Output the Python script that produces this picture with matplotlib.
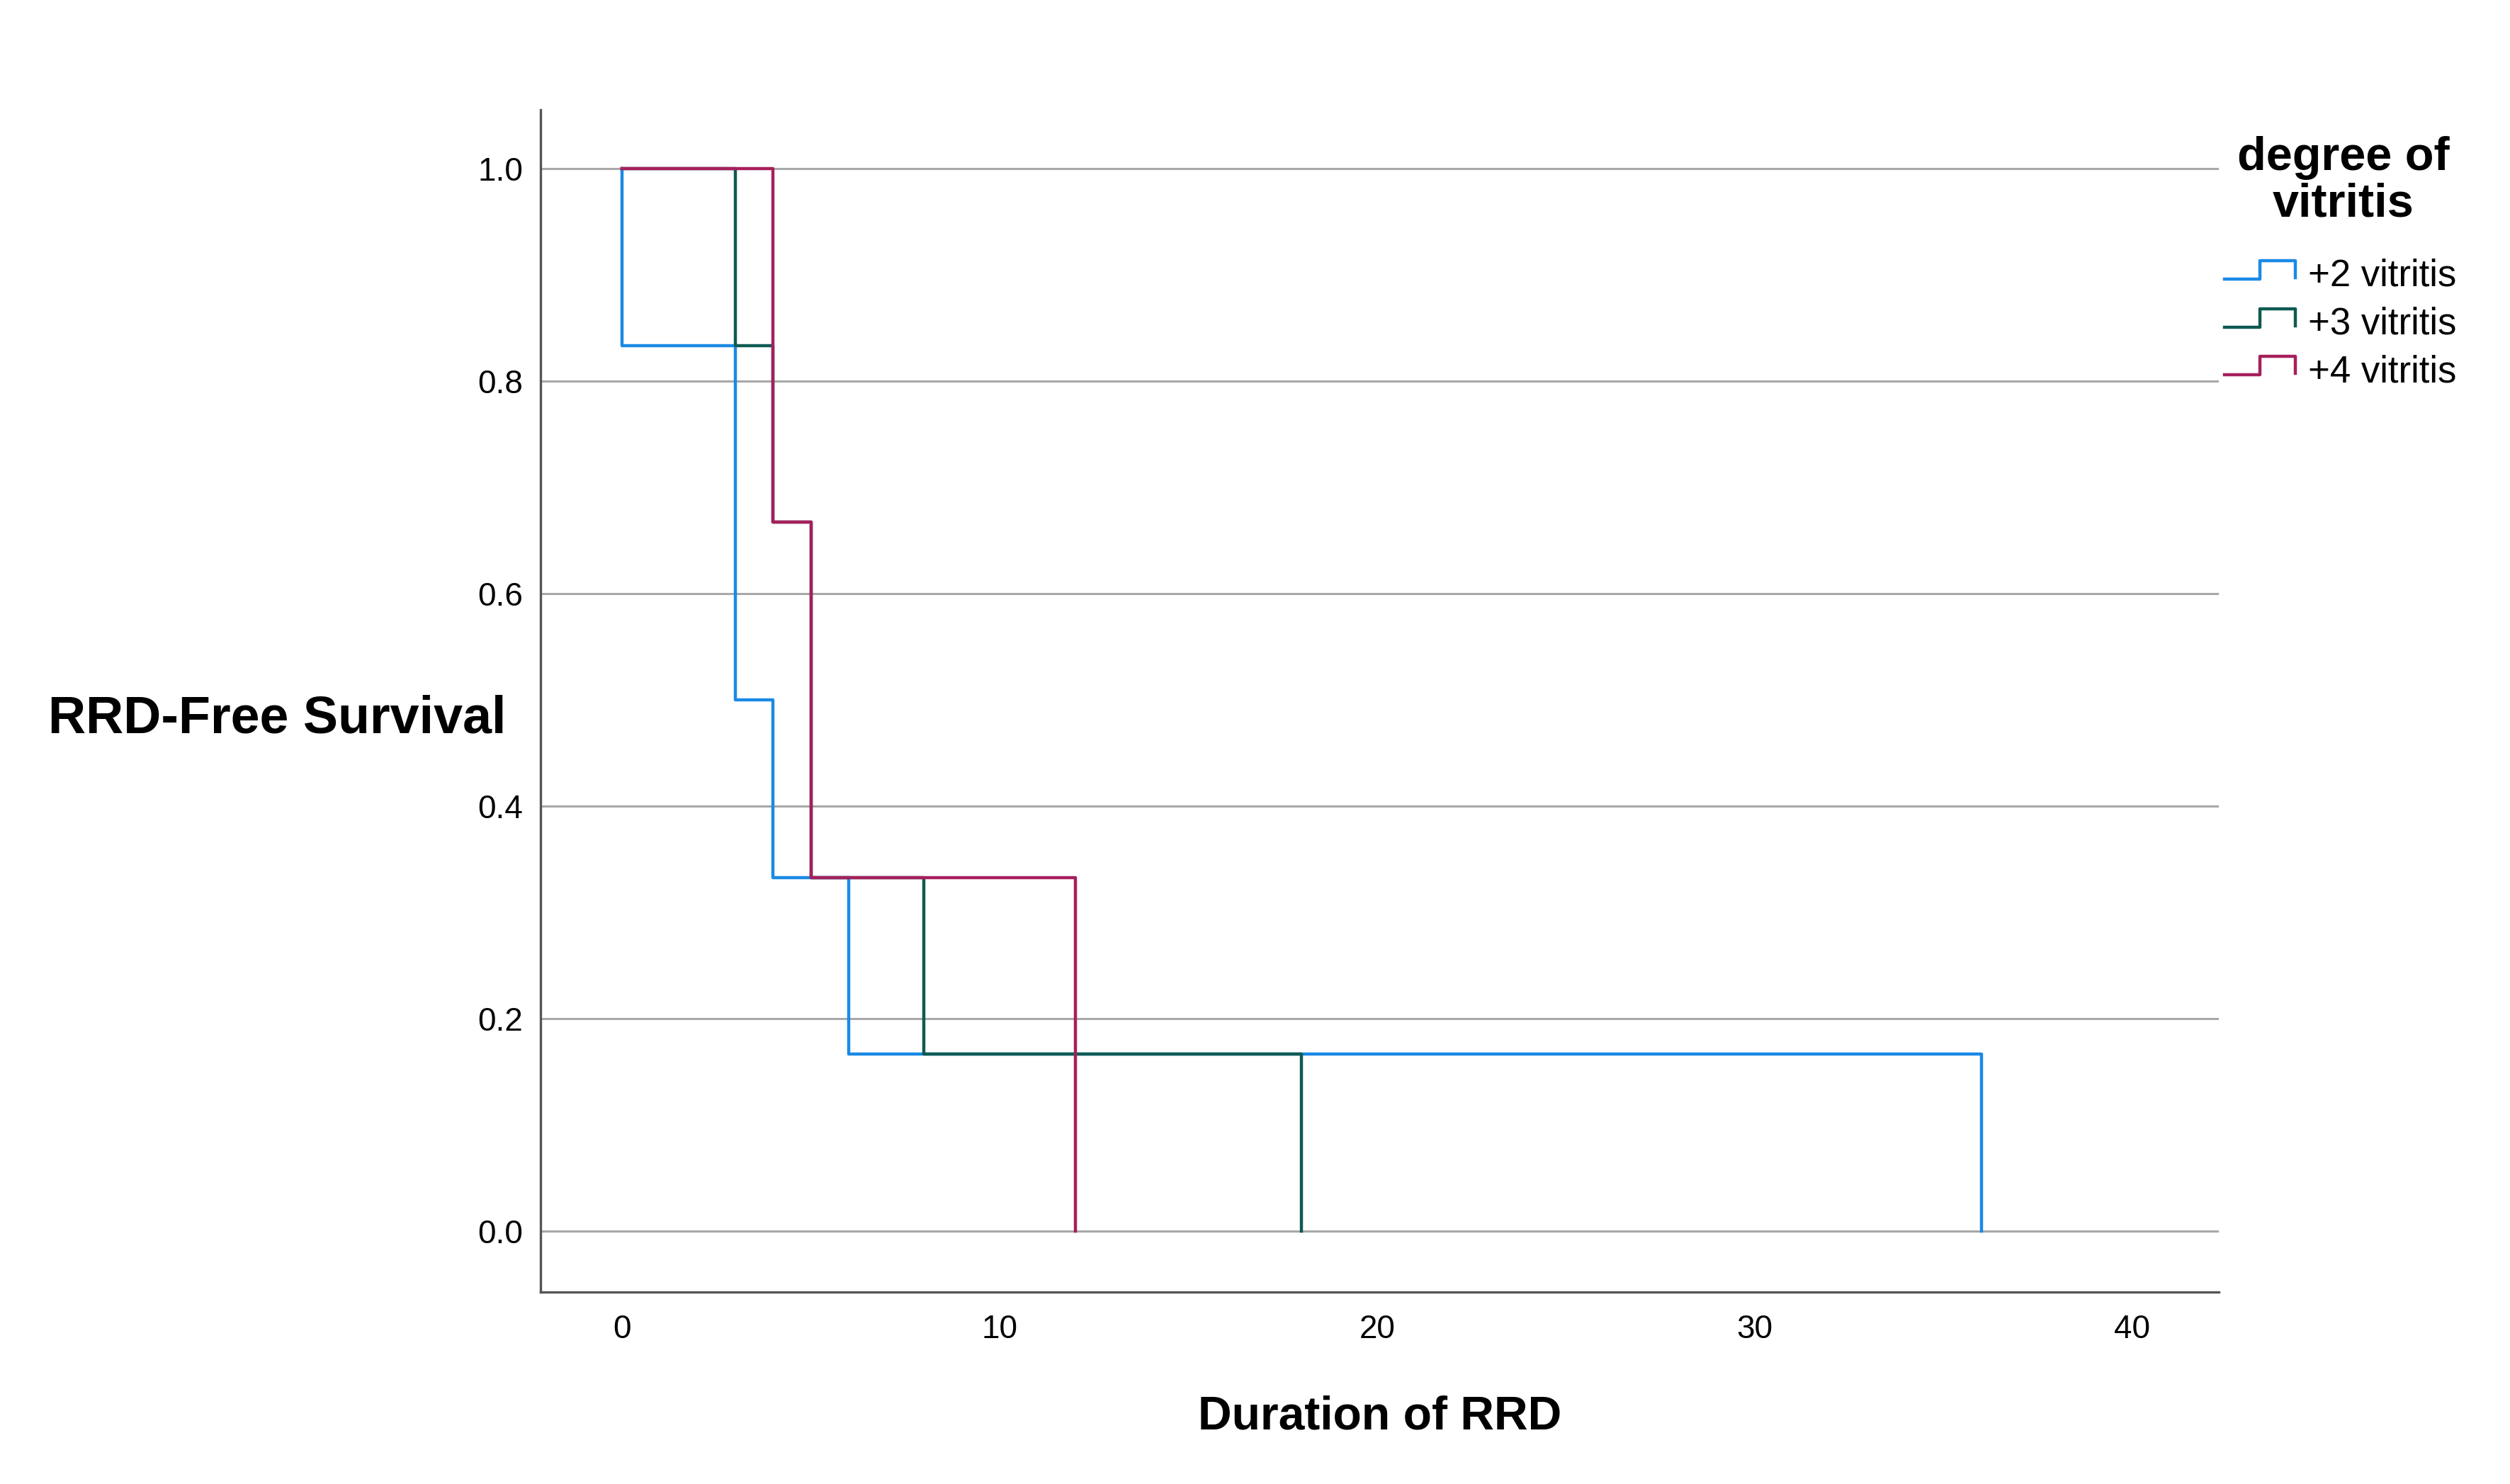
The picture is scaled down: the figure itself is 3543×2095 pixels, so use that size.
import matplotlib
matplotlib.use("Agg")
import matplotlib.pyplot as plt
from matplotlib import font_manager as fm
from matplotlib.lines import Line2D

# ---------------- data ----------------
group_labels = ["+2 vitritis", "+3 vitritis", "+4 vitritis"]
times_2 = [0, 0, 3, 4, 6, 36]
surv_2 = [1.0, 0.833, 0.5, 0.333, 0.167, 0.0]
times_3 = [0, 3, 4, 5, 8, 18]
surv_3 = [1.0, 0.833, 0.667, 0.333, 0.167, 0.0]
times_4 = [0, 4, 5, 12]
surv_4 = [1.0, 0.667, 0.333, 0.0]
x_ticks = [0, 10, 20, 30, 40]
y_ticks = [0.0, 0.2, 0.4, 0.6, 0.8, 1.0]
legend_title = ["degree of", "vitritis"]
x_title = "Duration of RRD"
y_title = "RRD-Free Survival"

colors = ["#1a8ae6", "#0f5a52", "#a61f5c"]

# ---------------- figure ----------------
W, H = 3543, 2095
DPI = 100
fig = plt.figure(figsize=(W / DPI, H / DPI), dpi=DPI, facecolor="white")

names = {f.name for f in fm.fontManager.ttflist}
narrow = "Liberation Sans Narrow" in names
base_font = "Liberation Sans" if "Liberation Sans" in names else "DejaVu Sans"
plt.rcParams["font.family"] = [base_font, "DejaVu Sans"]
title_font = ["Liberation Sans Narrow", base_font] if narrow else [base_font]
ysize = 65 if narrow else 53
xsize = 58 if narrow else 47.5


def fx(px):
    return px / W


def fy(py):
    return 1 - py / H


left, right, top, bottom = 763, 3132, 155, 1824
ax = fig.add_axes([fx(left), fy(bottom), fx(right) - fx(left), fy(top) - fy(bottom)])

ax.set_xlim(-2.16, 42.29)
ax.set_ylim(-0.0573, 1.0553)

for sp in ["top", "right"]:
    ax.spines[sp].set_visible(False)
for sp in ["left", "bottom"]:
    ax.spines[sp].set_color("#555555")
    ax.spines[sp].set_linewidth(2.4)

ax.set_yticks(y_ticks)
ax.set_yticklabels([f"{v:.1f}" for v in y_ticks])
ax.set_xticks(x_ticks)
ax.set_xticklabels([str(v) for v in x_ticks])
ax.tick_params(axis="y", length=0, pad=18, labelsize=33)
ax.tick_params(axis="x", length=0, pad=22, labelsize=33)

ax.yaxis.grid(True, color="#a8a8a8", linewidth=2.2)
ax.xaxis.grid(False)
ax.set_axisbelow(True)

lw = 3.2
ax.step(times_2, surv_2, where="post", color=colors[0], linewidth=lw, zorder=3)
ax.step(times_3, surv_3, where="post", color=colors[1], linewidth=lw, zorder=4)
ax.step(times_4, surv_4, where="post", color=colors[2], linewidth=lw, zorder=5)

# axis titles
ax.set_ylabel(y_title, rotation=0, ha="right", va="center", fontsize=ysize,
              fontweight="bold", family=title_font)
ax.yaxis.set_label_coords((714 - left) / (right - left), (bottom - 1015) / (bottom - top))
ax.set_xlabel(x_title, fontsize=xsize, fontweight="bold", family=title_font, va="center")
ax.xaxis.set_label_coords(0.5, (bottom - 2000) / (bottom - top))

# legend (drawn in figure space)
fig.text(fx(3308), fy(240), legend_title[0], ha="center", va="baseline",
         fontsize=48, fontweight="bold")
fig.text(fx(3308), fy(305), legend_title[1], ha="center", va="baseline",
         fontsize=48, fontweight="bold")

entry_base = [404, 472, 540]
handle_low = [394, 462, 529]
for lab, col, yb, yl in zip(group_labels, colors, entry_base, handle_low):
    yh = yl - 26
    xs = [fx(3140), fx(3190), fx(3190), fx(3240), fx(3240)]
    ys = [fy(yl), fy(yl), fy(yh), fy(yh), fy(yl - 2)]
    fig.add_artist(Line2D(xs, ys, color=col, linewidth=lw,
                          transform=fig.transFigure))
    fig.text(fx(3258), fy(yb), lab, ha="left", va="baseline", fontsize=38)

fig.savefig("out.png", dpi=DPI, facecolor="white")
